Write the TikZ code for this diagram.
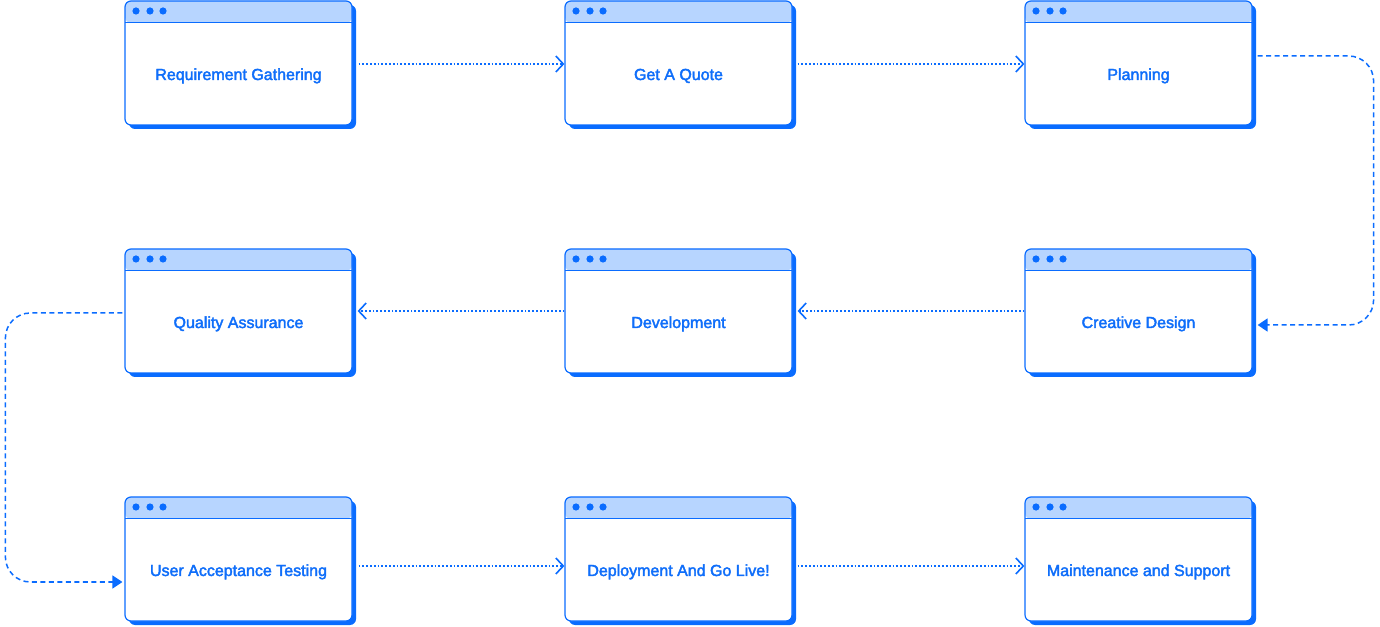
\documentclass[tikz,border=0pt]{standalone}
\usepackage{fontspec}
\newfontfamily\winfont{Liberation Sans}[FakeBold=2.4]
\usetikzlibrary{arrows.meta,positioning,shadows}
\definecolor{pBlue}{RGB}{10,108,255}
\definecolor{pLight}{RGB}{183,213,255}
\definecolor{pText}{RGB}{15,110,250}
\tikzset{
    win/.style={rectangle, draw=pBlue, line width=1.2pt, rounded corners=6pt, fill=white,
        minimum width=227pt, minimum height=124pt, inner sep=0pt,
        text=pText, font=\winfont\fontsize{16}{19}\selectfont, text height=34pt, text depth=0pt,
        drop shadow={shadow xshift=4pt, shadow yshift=-4pt, fill=pBlue, opacity=1},
        path picture={
            \fill[pLight] (path picture bounding box.north west) rectangle ([yshift=-22pt]path picture bounding box.north east);
            \draw[pBlue, line width=1pt] ([yshift=-22pt]path picture bounding box.north west) -- ([yshift=-22pt]path picture bounding box.north east);
            \foreach \dx in {11,25,38}
                \fill[pBlue] ([xshift=\dx pt, yshift=-10pt]path picture bounding box.north west) circle (3.6pt);
        }},
    dotline/.style={pBlue, line width=1.5pt, dash pattern=on 1.8pt off 2pt, -{Straight Barb[length=7.5pt, width=16pt, line width=1.6pt]}},
    dashline/.style={pBlue, line width=1.5pt, dash pattern=on 5pt off 3.5pt, rounded corners=25pt, -{Triangle[length=10pt, width=13pt]}}
}
\begin{document}
\begin{tikzpicture}[x=1pt,y=1pt]
\useasboundingbox (0,0) rectangle (1380,626);
% row 1
\node[win] (req)   at ( 238.5,563) {Requirement Gathering};
\node[win] (quote) at ( 678.5,563) {Get A Quote};
\node[win] (plan)  at (1138.5,563) {Planning};
% row 2
\node[win] (qa)     at ( 238.5,315) {Quality Assurance};
\node[win] (dev)    at ( 678.5,315) {Development};
\node[win] (design) at (1138.5,315) {Creative Design};
% row 3
\node[win] (uat)    at ( 238.5,67) {User Acceptance Testing};
\node[win] (deploy) at ( 678.5,67) {Deployment And Go Live!};
\node[win] (maint)  at (1138.5,67) {Maintenance and Support};

\draw[dotline] ([xshift=6pt,yshift=-1pt]req.east) -- ([yshift=-1pt]quote.west);
\draw[dotline] ([xshift=5pt,yshift=-1pt]quote.east) -- ([yshift=-1pt]plan.west);
\draw[dashline] ([xshift=5pt,yshift=7pt]plan.east) -- ++(116,0) |- ([xshift=5pt,yshift=-14pt]design.east);
\draw[dotline] (design.west) -- ([xshift=5pt]dev.east);
\draw[dotline] (dev.west) -- ([xshift=5pt]qa.east);
\draw[dashline] ([xshift=-2pt,yshift=-2pt]qa.west) -- ++(-117,0) |- ([xshift=-2pt,yshift=-23pt]uat.west);
\draw[dotline] ([xshift=6pt,yshift=-7pt]uat.east) -- ([yshift=-7pt]deploy.west);
\draw[dotline] ([xshift=5pt,yshift=-7pt]deploy.east) -- ([yshift=-7pt]maint.west);
\end{tikzpicture}
\end{document}
